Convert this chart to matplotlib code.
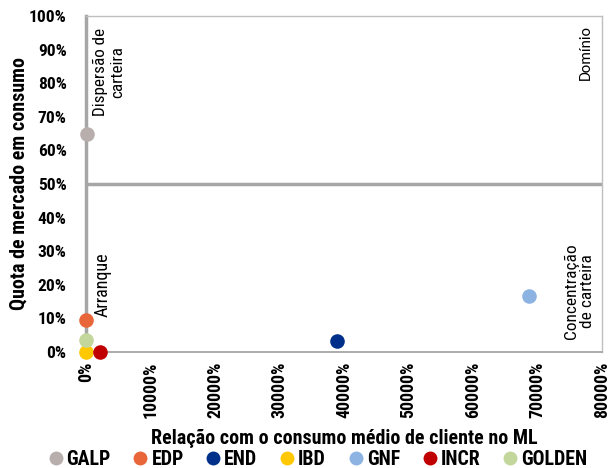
import matplotlib
matplotlib.use("Agg")
import matplotlib.pyplot as plt
from matplotlib.lines import Line2D

plt.rcParams['font.family'] = ['Roboto Condensed', 'DejaVu Sans']

### data
players = ["GALP", "EDP", "END", "IBD", "GNF", "INCR", "GOLDEN"]
relacao = [200, 0, 38900, 0, 68700, 2200, 0]      # % do consumo medio
quota = [65, 9.5, 3.3, 0, 16.7, 0, 3.6]            # % quota de mercado
cores = ["#B8AEAC", "#E8663A", "#00308A", "#FFC800", "#8DB3E2", "#C00000", "#C3D69B"]

xticks = list(range(0, 80001, 10000))
yticks = list(range(0, 101, 10))

fig = plt.figure(figsize=(6.12, 4.68), dpi=100)
ax = fig.add_axes([0.1405, 0.248, 0.843, 0.718])

# linha dos 50%
ax.axhline(50, color="#A6A6A6", lw=2.5, zorder=1)

for nome, x, y, c in zip(players, relacao, quota, cores):
    ax.scatter(x, y, s=110, color=c, zorder=3, clip_on=False, linewidths=0)

ax.set_xlim(0, 80000)
ax.set_ylim(0, 100)
ax.set_xticks(xticks)
ax.set_xticklabels([f"{v}%" for v in xticks], rotation=90, fontweight="bold", fontsize=12.8)
ax.set_yticks(yticks)
ax.set_yticklabels([f"{v}%" for v in yticks], fontweight="bold", fontsize=12.5)
ax.tick_params(axis="x", length=0, pad=7)
ax.tick_params(axis="y", length=0, pad=14)

for s in ["top", "right"]:
    ax.spines[s].set_color("#BFBFBF")
    ax.spines[s].set_linewidth(1)
ax.spines["bottom"].set_color("#A6A6A6")
ax.spines["bottom"].set_linewidth(1.3)
ax.spines["left"].set_color("#A6A6A6")
ax.spines["left"].set_linewidth(2.5)

ax.set_xlabel("Relação com o consumo médio de cliente no ML", fontweight="bold", fontsize=14.4)
ax.xaxis.set_label_coords(0.5, -0.23)
ax.set_ylabel("Quota de mercado em consumo", fontweight="bold", fontsize=14.4)
ax.yaxis.set_label_coords(-0.112, 0.5)

# quadrantes
ax.text(3600, 96.4, "Dispersão de\ncarteira", rotation=90, ha="center", va="top",
        multialignment="center", fontsize=12.3, linespacing=1.15)
ax.text(2500, 29.5, "Arranque", rotation=90, ha="center", va="top", fontsize=13)
ax.text(77500, 97.3, "Domínio", rotation=90, ha="center", va="top", fontsize=11.4,
        family=["Carlito", "DejaVu Sans"])
ax.text(76500, 32.4, "Concentração\nde carteira", rotation=90, ha="center", va="top",
        multialignment="center", fontsize=12.5, linespacing=1.1)

handles = [Line2D([], [], marker="o", ls="", color=c, markersize=10, markeredgewidth=0)
           for c in cores]
fig.legend(handles, players, loc="center", bbox_to_anchor=(0.517, 0.019), ncol=7,
           frameon=False, prop={"weight": "bold", "size": 14.3}, handletextpad=0.05,
           columnspacing=1.0, handlelength=1.0, borderaxespad=0)

fig.savefig("out.png", dpi=100)
